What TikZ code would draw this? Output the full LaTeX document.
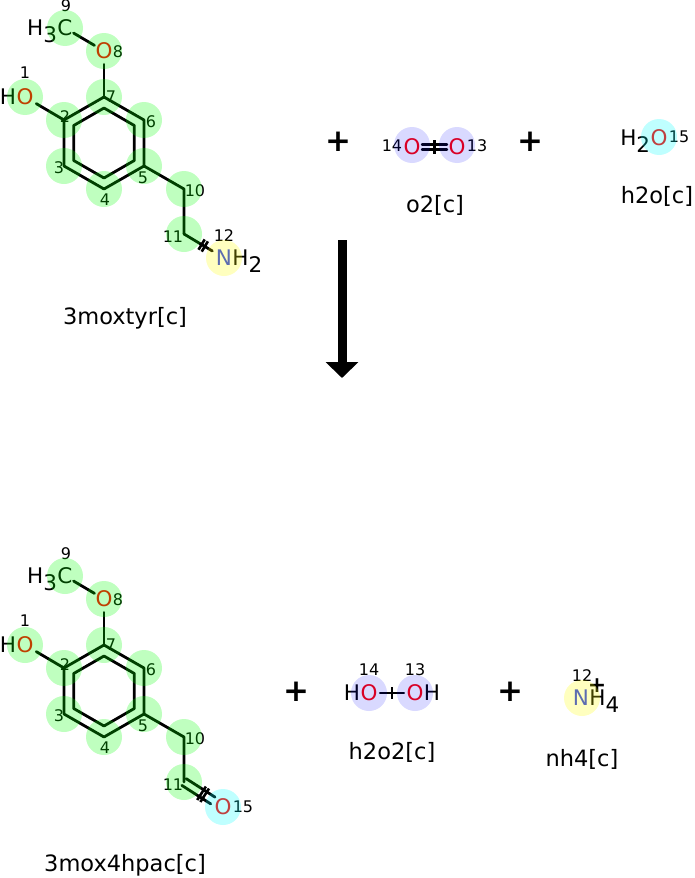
\documentclass[tikz,border=0pt]{standalone}
\usepackage{fontspec}
\setmainfont{DejaVu Sans}
\usetikzlibrary{positioning, calc, arrows.meta}
\definecolor{oxred}{RGB}{255, 0, 0}
\definecolor{nitblue}{RGB}{40, 60, 235}
\definecolor{hlgreen}{RGB}{0, 255, 0}
\definecolor{hlyellow}{RGB}{255, 255, 0}
\definecolor{hlcyan}{RGB}{0, 255, 255}
\definecolor{hlblue}{RGB}{0, 0, 255}
\newcommand{\lowr}[1]{\raisebox{-0.3em}{#1}}
\tikzset{
  atom/.style={inner sep=0pt, font=\fontsize{21.5}{24}\selectfont},
  num/.style={inner sep=0pt, font=\fontsize{16}{19}\selectfont},
  molname/.style={inner sep=0pt, font=\fontsize{22.5}{26}\selectfont},
  plus/.style={inner sep=0pt, font=\fontsize{31}{34}\selectfont\bfseries},
  bond/.style={line width=2.8pt, line cap=round},
  tick/.style={line width=2.6pt},
  hl/.style={circle, minimum size=36pt, inner sep=0pt, fill opacity=0.25}
}

\begin{document}
\begin{tikzpicture}[x=1pt, y=-1pt]
  \useasboundingbox (0, 0) rectangle (695, 878);

  % Shared skeleton of both molecules
  \foreach \m/\dy in {t/0, b/548}{
    \begin{scope}[yshift=-\dy pt]
      \coordinate (c2\m) at (64, 120);
      \coordinate (c3\m) at (64, 166);
      \coordinate (c4\m) at (104, 189);
      \coordinate (c5\m) at (144, 166);
      \coordinate (c6\m) at (144, 120);
      \coordinate (c7\m) at (104, 97);
      \coordinate (c10\m) at (184, 189);
      \coordinate (c11\m) at (184, 234);
      \node[atom, text=oxred] (o1\m) at (25, 97) {O};
      \node[atom, anchor=base east] (h1\m) at (o1\m.base west) {H};
      \node[atom, text=oxred] (o8\m) at (104, 51) {O};
      \node[atom] (c9\m) at (65, 28) {C};
      \node[atom, anchor=base east] (h9\m) at (c9\m.base west) {H\lowr{3}};

      % Ring
      \draw[bond, line join=round] (c2\m) -- (c3\m) -- (c4\m) -- (c5\m) -- (c6\m) -- (c7\m) -- cycle;
      \draw[bond, line join=round] (104, 108) -- (134.3, 125.5) -- (134.3, 160.5) -- (104, 178) -- (73.7, 160.5) -- (73.7, 125.5) -- cycle;

      % Side chains
      \draw[bond, shorten <=3pt] (o1\m) -- (c2\m);
      \draw[bond, shorten >=5pt] (c7\m) -- (o8\m);
      \draw[bond, shorten <=1pt, shorten >=1pt] (o8\m) -- (c9\m);
      \draw[bond, line join=round] (c5\m) -- (c10\m) -- (c11\m);

      % Atom numbers
      \node[num] (l1\m) at (25, 73) {1};
      \node[num] (l2\m) at (65, 117) {2};
      \node[num] (l3\m) at (59, 168) {3};
      \node[num] (l4\m) at (105, 200) {4};
      \node[num] (l5\m) at (143, 178) {5};
      \node[num] (l6\m) at (151, 122) {6};
      \node[num] (l7\m) at (111, 97) {7};
      \node[num] (l8\m) at (118, 52) {8};
      \node[num] (l9\m) at (66, 6) {9};
      \node[num] (l10\m) at (195, 191) {10};
    \end{scope}
  }

  % 3moxtyr tail
  \node[atom, text=nitblue] (n12t) at (224, 258) {N};
  \node[atom, anchor=base west] (h12t) at (n12t.base east) {H\lowr{2}};
  \draw[bond, shorten >=4pt] (c11t) -- (n12t);
  \draw[tick] ($(c11t)!0.44!(n12t)!6pt!90:(n12t)$) -- ($(c11t)!0.44!(n12t)!6pt!-90:(n12t)$);
  \draw[tick] ($(c11t)!0.52!(n12t)!6pt!90:(n12t)$) -- ($(c11t)!0.52!(n12t)!6pt!-90:(n12t)$);
  \node[num] (l11t) at (173, 237) {11};
  \node[num] (l12t) at (224, 236) {12};

  % 3mox4hpac tail
  \node[atom, text=oxred] (o15b) at (223, 807) {O};
  \draw[bond, shorten >=12pt] ($(c11b)!4pt!90:(o15b)$) -- ($(o15b)!4pt!-90:(c11b)$);
  \draw[bond, shorten >=12pt] ($(c11b)!4pt!-90:(o15b)$) -- ($(o15b)!4pt!90:(c11b)$);
  \draw[tick] ($(c11b)!0.45!(o15b)!8pt!90:(o15b)$) -- ($(c11b)!0.45!(o15b)!8pt!-90:(o15b)$);
  \draw[tick] ($(c11b)!0.53!(o15b)!8pt!90:(o15b)$) -- ($(c11b)!0.53!(o15b)!8pt!-90:(o15b)$);
  \node[num] (l11b) at (173, 785) {11};
  \node[num] (l15b) at (243, 807) {15};

  % O2
  \node[atom, text=oxred] (o14t) at (412, 147) {O};
  \node[atom, text=oxred] (o13t) at (457, 147) {O};
  \draw[bond, shorten <=1.5pt, shorten >=1.5pt] ([yshift=2.5pt]o14t.east) -- ([yshift=2.5pt]o13t.west);
  \draw[bond, shorten <=1.5pt, shorten >=1.5pt] ([yshift=-2.5pt]o14t.east) -- ([yshift=-2.5pt]o13t.west);
  \coordinate (m14t) at ($(o14t)!0.5!(o13t)$);
  \draw[tick] ([yshift=7pt]m14t) -- ([yshift=-7pt]m14t);
  \node[num, anchor=east] (l14t) at ([xshift=-1pt, yshift=1pt]o14t.west) {14};
  \node[num, anchor=west] (l13t) at ([xshift=1pt, yshift=1pt]o13t.east) {13};

  % H2O
  \node[atom, text=oxred] (o15t) at (659, 138) {O};
  \node[atom, anchor=base east] (h15t) at (o15t.base west) {H\lowr{2}};
  \node[num, anchor=west] (l15t) at ([xshift=1pt, yshift=1pt]o15t.east) {15};

  % H2O2
  \node[atom, text=oxred] (o14b) at (369, 693) {O};
  \node[atom, text=oxred] (o13b) at (415, 693) {O};
  \node[atom, anchor=base east] (h14b) at (o14b.base west) {H};
  \node[atom, anchor=base west] (h13b) at (o13b.base east) {H};
  \draw[bond, shorten <=2.5pt, shorten >=2.5pt] (o14b) -- (o13b);
  \coordinate (m14b) at ($(o14b)!0.5!(o13b)$);
  \draw[tick] ([yshift=6pt]m14b) -- ([yshift=-6pt]m14b);
  \node[num] (l14b) at (369, 670) {14};
  \node[num] (l13b) at (415, 670) {13};

  % NH4+
  \node[atom, text=nitblue] (n12b) at (581, 698) {N};
  \node[atom, anchor=base west] (h12b) at (n12b.base east) {H\lowr{4}};
  \node[inner sep=0pt, font=\fontsize{22}{24}\selectfont\bfseries] (chg) at (597, 686) {+};
  \node[num] (l12b) at (582, 676) {12};

  % Highlights
  \foreach \m in {t, b}{
    \foreach \a in {o1, c2, c3, c4, c5, c6, c7, o8, c9, c10, c11}
      \node[hl, fill=hlgreen] (hl-\a\m) at (\a\m) {};
  }
  \node[hl, fill=hlyellow] (hl-n12t) at (n12t) {};
  \node[hl, fill=hlyellow] (hl-n12b) at (582, 698) {};
  \node[hl, fill=hlcyan] (hl-o15t) at (659, 137) {};
  \node[hl, fill=hlcyan] (hl-o15b) at (o15b) {};
  \node[hl, fill=hlblue, fill opacity=0.15] (hl-o14t) at (412, 145) {};
  \node[hl, fill=hlblue, fill opacity=0.15] (hl-o13t) at (457, 145) {};
  \node[hl, fill=hlblue, fill opacity=0.15] (hl-o14b) at (o14b) {};
  \node[hl, fill=hlblue, fill opacity=0.15] (hl-o13b) at (o13b) {};

  % Plus signs
  \node[plus] (p1) at (338, 142) {+};
  \node[plus] (p2) at (530, 142) {+};
  \node[plus] (p3) at (296, 692) {+};
  \node[plus] (p4) at (510, 692) {+};

  % Reaction arrow
  \coordinate (arr-s) at (342, 240);
  \coordinate (arr-e) at (342, 378);
  \draw[line width=9pt, -{Triangle[width=32pt, length=16pt]}] (arr-s) -- (arr-e);

  % Names
  \node[molname] (nm-3moxtyr) at (125, 318) {3moxtyr[c]};
  \node[molname] (nm-o2) at (435, 205) {o2[c]};
  \node[molname] (nm-h2o) at (657, 196) {h2o[c]};
  \node[molname] (nm-3mox4hpac) at (125, 865) {3mox4hpac[c]};
  \node[molname] (nm-h2o2) at (392, 752) {h2o2[c]};
  \node[molname] (nm-nh4) at (582, 759) {nh4[c]};
\end{tikzpicture}
\end{document}
